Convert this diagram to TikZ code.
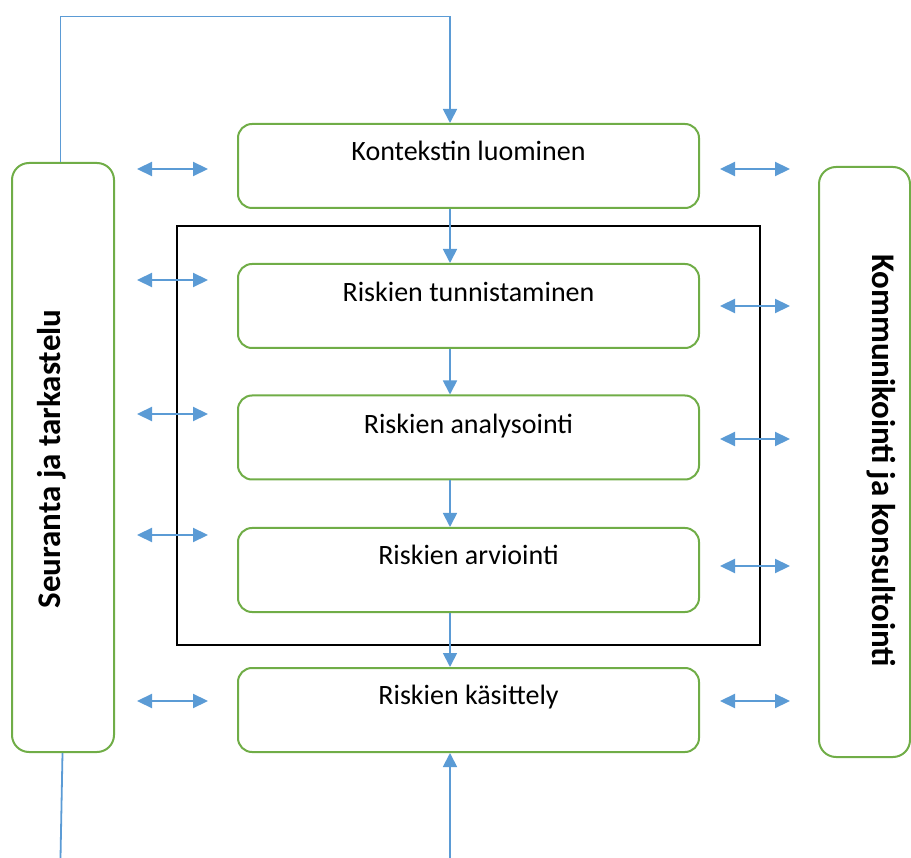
\documentclass[tikz,border=0pt]{standalone}
\usepackage{fontspec}
\setmainfont{Carlito}
\usetikzlibrary{arrows.meta}
\definecolor{gbord}{HTML}{70AD47}
\definecolor{barr}{HTML}{5B9BD5}
\tikzset{
  stage/.style={draw=gbord, line width=2pt, rounded corners=14pt,
    minimum width=461pt, minimum height=84pt, inner sep=0pt},
  side/.style={draw=gbord, line width=2pt, rounded corners=17pt, inner sep=0pt},
  stxt/.style={font=\fontsize{28}{32}\selectfont, text height=20pt, text depth=6pt, inner sep=0pt},
  sidetxt/.style={font=\fontsize{33}{36}\selectfont\bfseries, anchor=base},
  flow/.style={draw=barr, line width=1.8pt, -{Triangle[length=14pt,width=14pt]}},
  plain/.style={draw=barr, line width=1.8pt},
  dbl/.style={draw=barr, line width=2.2pt, {Triangle[length=15pt,width=14pt]}-{Triangle[length=15pt,width=14pt]}},
  frame/.style={draw=black, line width=1.8pt, inner sep=0pt}
}
\begin{document}
\begin{tikzpicture}[x=1pt,y=-1pt]
\useasboundingbox (0,0) rectangle (911,858);
% frame
\node[frame, minimum width=583pt, minimum height=419pt] (F) at (468.5,435.5) {};
% side boxes
\node[side, minimum width=102pt, minimum height=589pt] (L) at (63,457.5) {};
\node[sidetxt, rotate=90] (Lt) at (60,459) {Seuranta ja tarkastelu};
\node[side, minimum width=91pt, minimum height=590pt] (R) at (864.5,462) {};
\node[sidetxt, rotate=-90] (Rt) at (872,460.5) {Kommunikointi ja konsultointi};
% stages
\node[stage, label={[stxt, yshift=12.3pt]center:Kontekstin luominen}] (K) at (468.5,166) {};
\node[stage, label={[stxt, yshift=11pt]center:Riskien tunnistaminen}] (T) at (468.5,306) {};
\node[stage, label={[stxt, yshift=11.2pt]center:Riskien analysointi}] (An) at (468.5,437.5) {};
\node[stage, label={[stxt, yshift=12.3pt]center:Riskien arviointi}] (Ar) at (468.5,570) {};
\node[stage, label={[stxt, yshift=12.3pt]center:Riskien käsittely}] (Ka) at (468.5,710) {};
\coordinate (ax) at (450,0);
\coordinate (top) at (450,16.5);
\coordinate (lb) at (60.5,858);
\coordinate (bb) at (450,858);
% flow arrows
\draw[flow] ([xshift=-2.5pt]L.north) |- (top) -- (K.north -| ax);
\draw[flow] (K.south -| ax) -- (T.north -| ax);
\draw[flow] (T.south -| ax) -- (An.north -| ax);
\draw[flow] (An.south -| ax) -- (Ar.north -| ax);
\draw[flow] (Ar.south -| ax) -- (Ka.north -| ax);
\draw[flow] (bb) -- (Ka.south -| ax);
\draw[plain] ([xshift=-0.5pt]L.south) -- (lb);
% double arrows
\foreach \y in {169,280,414,535,701} \draw[dbl] (137,\y) -- (208,\y);
\foreach \y in {169,306,439,566,701} \draw[dbl] (720,\y) -- (790,\y);
\end{tikzpicture}
\end{document}
